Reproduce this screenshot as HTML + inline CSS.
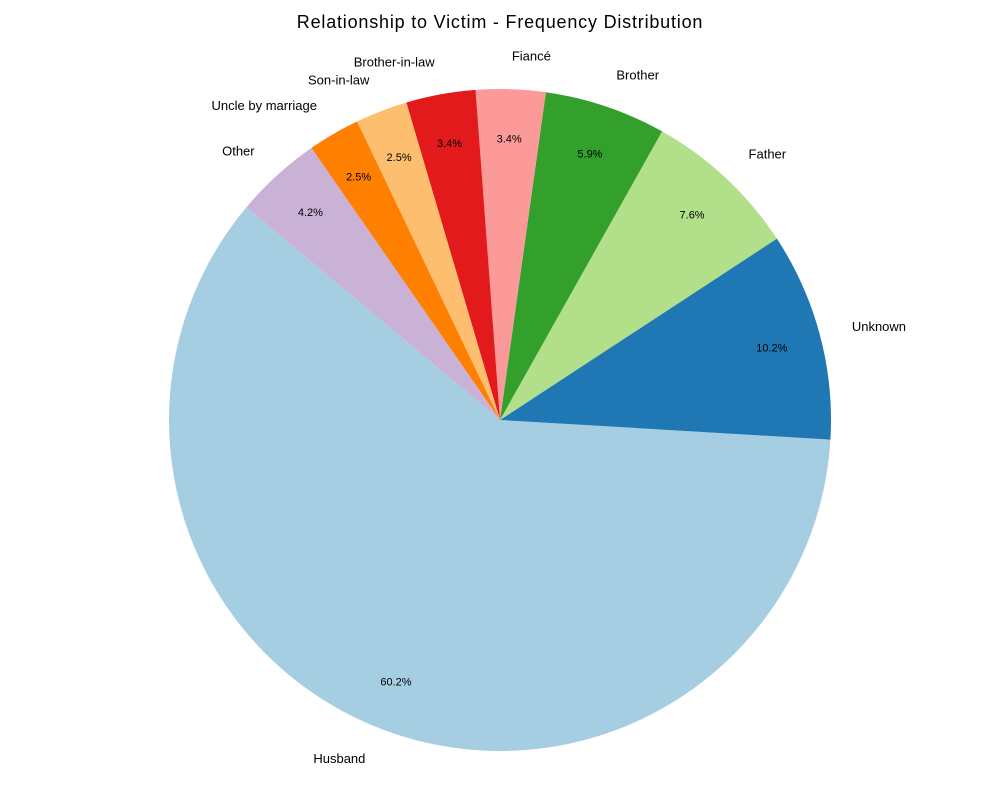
<!DOCTYPE html>
<html><head><meta charset="utf-8"><style>
html,body{margin:0;padding:0;background:#fff;}
svg{display:block;font-family:"Liberation Sans",sans-serif;}
</style></head><body>
<svg id="s" width="1000" height="800" viewBox="0 0 1000 800">
<text x="500" y="28" text-anchor="middle" font-size="18" letter-spacing="0.8" fill="#000">Relationship to Victim - Frequency Distribution</text>
</svg>
<script>
var data=[["Husband",71,"#a6cee3"],["Unknown",12,"#1f78b4"],["Father",9,"#b2df8a"],["Brother",7,"#33a02c"],["Fiancé",4,"#fb9a99"],["Brother-in-law",4,"#e31a1c"],["Son-in-law",3,"#fdbf6f"],["Uncle by marriage",3,"#ff7f00"],["Other",5,"#cab2d6"]];
var cx=500,cy=420,r=331,tot=118,a=140,s=document.getElementById('s');
function P(ang,rr){var t=ang*Math.PI/180;return [cx+rr*Math.cos(t),cy-rr*Math.sin(t)];}
var out="";
data.forEach(function(d){
 var sw=d[1]/tot*360,a2=a+sw,p1=P(a,r),p2=P(a2,r),m=a+sw/2;
 out+='<path d="M'+cx+','+cy+' L'+p1[0]+','+p1[1]+' A'+r+','+r+' 0 '+(sw>180?1:0)+' 0 '+p2[0]+','+p2[1]+' Z" fill="'+d[2]+'"/>';
 var lp=P(m,r*1.1),pp=P(m,r*0.85);
 out+='<text x="'+lp[0]+'" y="'+lp[1]+'" dy="0.35em" font-size="13" text-anchor="'+(lp[0]>=cx?'start':'end')+'">'+d[0]+'</text>';
 out+='<text x="'+pp[0]+'" y="'+pp[1]+'" dy="0.35em" font-size="11" text-anchor="middle">'+(d[1]/tot*100).toFixed(1)+'%</text>';
 a=a2;
});
s.insertAdjacentHTML('beforeend',out);
</script>
</body></html>
